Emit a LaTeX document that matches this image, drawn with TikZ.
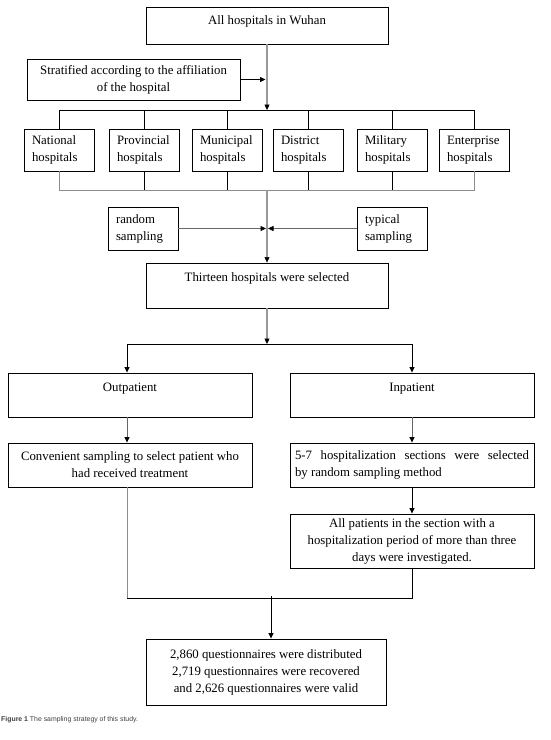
\documentclass[tikz,border=0pt]{standalone}
\usepackage{fontspec}
\setmainfont{Liberation Serif}
\newfontfamily\capfont{Liberation Sans}
\usetikzlibrary{arrows.meta}
\begin{document}
\begin{tikzpicture}[x=1pt,y=-1pt,
  font=\fontsize{12.8}{17}\selectfont,
  box/.style={draw=black,line width=0.9pt,inner sep=0pt,align=center},
  hbox/.style={draw=black,line width=0.9pt,minimum height=42pt,text width=54pt,inner xsep=8pt,inner ysep=0pt,align=left},
  arr/.style={line width=0.8pt,-{Triangle[length=5.5pt,width=5pt]}},
  garr/.style={line width=1.6pt,draw=black!40,-{Triangle[length=5.5pt,width=5pt,color=black,line width=0.5pt]}},
  ln/.style={line width=0.8pt},
  gln/.style={line width=0.8pt,draw=black!45}]
\useasboundingbox (0,0) rectangle (551,740);

% boxes
\node[box,text height=17pt,text depth=20pt,minimum width=242pt] (all) at (267,25.5) {All hospitals in Wuhan};
\node[box,minimum width=213pt,minimum height=41pt] (strat) at (133.5,79.5) {Stratified according to the affiliation\\of the hospital};

\node[hbox] (nat) at (59,150) {National\\hospitals};
\node[hbox] (pro) at (144,150) {Provincial\\hospitals};
\node[hbox] (mun) at (227,150) {Municipal\\hospitals};
\node[hbox] (dis) at (308,150) {District\\hospitals};
\node[hbox] (mil) at (392,150) {Military\\hospitals};
\node[hbox] (ent) at (474,150) {Enterprise\\hospitals};

\node[hbox,minimum height=43pt] (rnd) at (143,228.5) {random\\sampling};
\node[hbox,minimum height=43pt] (typ) at (392,228.5) {typical\\sampling};

\node[box,text height=18pt,text depth=27pt,minimum width=242pt] (thir) at (267,285.5) {Thirteen hospitals were selected};

\node[box,text height=18pt,text depth=26pt,minimum width=244pt] (outp) at (130,395) {Outpatient};
\node[box,text height=18pt,text depth=26pt,minimum width=244pt] (inp) at (412,395) {Inpatient};

\node[box,minimum width=244pt,minimum height=44pt] (conv) at (130,465) {Convenient sampling to select patient who\\had received treatment};
\node[box,minimum height=44pt,text width=234pt,inner xsep=5pt,align=justify] (sec) at (412,465) {5-7 hospitalization sections were selected\linebreak by random sampling method};
\node[box,minimum width=244pt,minimum height=54pt] (allp) at (412,541) {All patients in the section with a\\hospitalization period of more than three\\days were investigated.};

\node[box,minimum width=240pt,minimum height=66pt] (fin) at (266,672) {2,860 questionnaires were distributed\\2,719 questionnaires were recovered\\and 2,626 questionnaires were valid};

\node[anchor=west,inner sep=0pt,font=\capfont\fontsize{6.9}{8}\selectfont,text=black!75] (cap) at (1,720) {\textbf{Figure 1} The sampling strategy of this study.};

% coordinates
\coordinate (t1) at (267,110);
\coordinate (b1) at (267,190);
\coordinate (br) at (267,344);
\coordinate (bl) at (127,344);
\coordinate (brr) at (412,344);
\coordinate (jl) at (127,598);
\coordinate (jr) at (412,598);
\coordinate (jm) at (271,598);

% connectors
\draw[garr] (all.south) -- (t1);
\draw[arr] (strat.east) -- ([xshift=-1.5pt]strat.east -| all.south);
\draw[ln] (nat.north) -- (nat.north |- t1) -- (ent.north |- t1) -- (ent.north);
\foreach \n in {pro,mun,dis,mil} \draw[ln] (\n.north) -- (\n.north |- t1);
\draw[gln] (nat.south) -- (nat.south |- b1) -- (ent.south |- b1) -- (ent.south);
\foreach \n in {pro,mun,dis,mil} \draw[ln] (\n.south) -- (\n.south |- b1);
\draw[garr] (b1) -- (thir.north);
\draw[line width=0.8pt,draw=black!60,-{Triangle[length=5.5pt,width=5pt,color=black]}] (rnd.east) -- ([xshift=-1pt]rnd.east -| b1);
\draw[line width=0.8pt,draw=black!60,-{Triangle[length=5.5pt,width=5pt,color=black]}] (typ.west) -- ([xshift=1pt]typ.west -| b1);
\draw[garr] (thir.south) -- (br);
\draw[ln] (bl) -- (brr);
\draw[arr] (bl) -- (bl |- outp.north);
\draw[arr] (brr) -- (inp.north);
\draw[line width=0.8pt,draw=black!60,-{Triangle[length=5.5pt,width=5pt,color=black]}] (outp.south -| bl) -- (conv.north -| bl);
\draw[line width=0.8pt,draw=black!60,-{Triangle[length=5.5pt,width=5pt,color=black]}] (inp.south) -- (sec.north);
\draw[arr] (sec.south) -- (allp.north);
\draw[gln] (conv.south -| bl) -- (jl);
\draw[ln] (jl) -- (jr) -- (allp.south);
\draw[arr] ([yshift=2pt]jm) -- (jm |- fin.north);
\end{tikzpicture}
\end{document}
